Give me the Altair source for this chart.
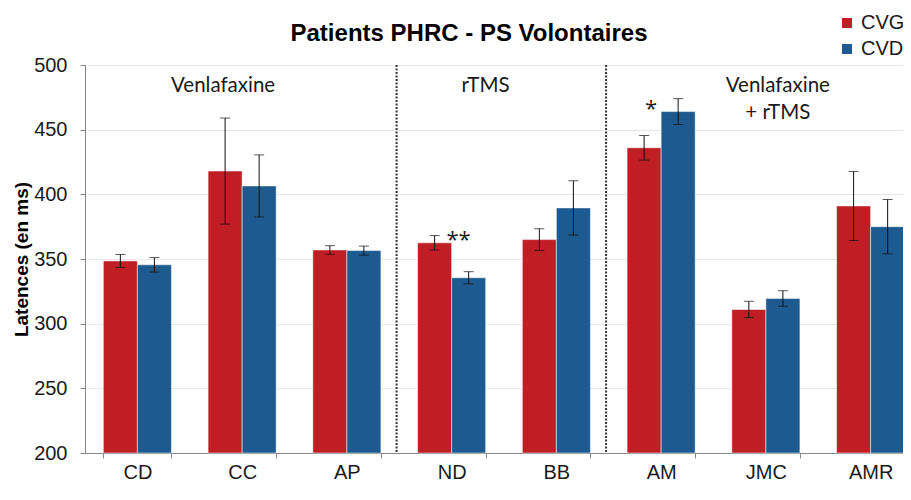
import altair as alt
import pandas as pd

categories = ["CD", "CC", "AP", "ND", "BB", "AM", "JMC", "AMR"]
series = ["CVG", "CVD"]
cvg = [348.5, 418.0, 357.0, 362.5, 365.0, 436.0, 311.0, 391.0]
cvg_err = [5.0, 41.0, 3.3, 5.6, 8.4, 9.5, 6.3, 26.7]
cvd = [345.5, 406.5, 356.5, 335.5, 389.5, 464.0, 319.5, 375.0]
cvd_err = [5.6, 24.0, 3.5, 4.7, 21.0, 10.0, 6.0, 21.0]

group_labels = ["Venlafaxine", "rTMS", "Venlafaxine", "+ rTMS"]
group_label_cats = ["CC", "ND", "JMC", "JMC"]
group_label_vals = [484, 484, 484, 463]
group_label_dx = [15, 68, 46, 46]

sig_labels = ["**", "*"]
sig_cats = ["ND", "AM"]
sig_vals = [365, 466]
sig_dx = [41, 24]

separator_cats = ["ND", "AM"]

colors = ["#BE1E24", "#1D5A8F"]

rows = []
for i, c in enumerate(categories):
    rows.append({"cat": c, "series": "CVG", "value": cvg[i], "base": 200,
                 "lo": cvg[i] - cvg_err[i], "hi": cvg[i] + cvg_err[i]})
    rows.append({"cat": c, "series": "CVD", "value": cvd[i], "base": 200,
                 "lo": cvd[i] - cvd_err[i], "hi": cvd[i] + cvd_err[i]})
df = pd.DataFrame(rows)

ann = pd.DataFrame({"cat": group_label_cats, "text": group_labels,
                    "v": group_label_vals, "dx": group_label_dx})
sig = pd.DataFrame({"cat": sig_cats, "text": sig_labels, "v": sig_vals, "dx": sig_dx})
sep = pd.DataFrame({"cat": separator_cats, "top": [500] * 2, "bottom": [200] * 2})

x_enc = alt.X("cat:N", sort=categories,
              scale=alt.Scale(domain=categories, range=[0, 838],
                              paddingInner=0.35, paddingOuter=0.175),
              axis=alt.Axis(title=None, labelAngle=0, tickBand="extent",
                            domainColor="#868686", tickColor="#868686",
                            tickSize=5, labelPadding=4, labelFontSize=20,
                            labelFont="Liberation Sans", labelColor="#1a1a1a",
                            grid=False))
y_scale = alt.Scale(domain=[200, 500], nice=False, zero=False)
xoff = alt.XOffset("series:N", sort=series, scale=alt.Scale(domain=series, paddingInner=0, paddingOuter=0))

base = alt.Chart(df)

bars = base.mark_bar(stroke="white", strokeWidth=1, strokeOpacity=0.5).encode(
    x=x_enc,
    xOffset=xoff,
    y=alt.Y("value:Q", scale=y_scale,
            axis=alt.Axis(title="Latences (en ms)", values=[200, 250, 300, 350, 400, 450, 500],
                          titleFont="Liberation Sans", titleFontSize=19, titleFontWeight="bold",
                          titleColor="#000000", titlePadding=2,
                          labelFont="Liberation Sans", labelFontSize=20, labelColor="#1a1a1a",
                          labelPadding=13, tickSize=5, tickColor="#868686",
                          domainColor="#868686", gridColor="#D0D0D0", gridDash=[1, 1],
                          gridWidth=1)),
    y2="base:Q",
    color=alt.Color("series:N", sort=series,
                    scale=alt.Scale(domain=series, range=colors),
                    legend=alt.Legend(title=None, orient="none", legendX=752, legendY=-52,
                                      symbolType="square", symbolSize=100, symbolStrokeWidth=0,
                                      labelFont="Liberation Sans", labelFontSize=20,
                                      labelColor="#1a1a1a", rowPadding=6, labelOffset=4,
                                      padding=0)),
)

err_rule = base.mark_rule(color="#111111", strokeWidth=1).encode(
    x=alt.X("cat:N", sort=categories), xOffset=xoff,
    y=alt.Y("lo:Q", scale=y_scale), y2="hi:Q")
err_lo = base.mark_tick(color="#111111", thickness=1, size=10).encode(
    x=alt.X("cat:N", sort=categories), xOffset=xoff, y=alt.Y("lo:Q", scale=y_scale))
err_hi = base.mark_tick(color="#111111", thickness=1, size=10).encode(
    x=alt.X("cat:N", sort=categories), xOffset=xoff, y=alt.Y("hi:Q", scale=y_scale))

seps = alt.Chart(sep).mark_rule(color="#333333", strokeWidth=2, strokeDash=[2, 1.5], xOffset=-21).encode(
    x=alt.X("cat:N", sort=categories, bandPosition=0),
    y=alt.Y("top:Q", scale=y_scale), y2="bottom:Q")

ann_text = alt.Chart(ann).mark_text(font="Lato", fontSize=20.5, color="#1a1a1a", baseline="middle").encode(
    x=alt.X("cat:N", sort=categories), y=alt.Y("v:Q", scale=y_scale),
    text="text:N", xOffset=alt.XOffset("dx:Q", scale=None))

sig_text = alt.Chart(sig).mark_text(font="Open Sans", fontSize=22, color="#1a1a1a", baseline="middle").encode(
    x=alt.X("cat:N", sort=categories), y=alt.Y("v:Q", scale=y_scale),
    text="text:N", xOffset=alt.XOffset("dx:Q", scale=None))

chart = alt.layer(bars, err_rule, err_lo, err_hi, seps, ann_text, sig_text).resolve_scale(
    xOffset="independent"
).properties(
    width=818, height=388,
    autosize=alt.AutoSizeParams(type="none"),
    padding={"left": 77, "top": 57, "right": 0, "bottom": 31},
    title=alt.TitleParams("Patients PHRC - PS Volontaires", font="Liberation Sans", fontSize=24,
                          fontWeight="bold", color="#000000", anchor="middle", dx=-25, offset=-33),
).configure_view(stroke=None).configure_axisX(grid=False)

chart.save("out.html", embed_options={"renderer": "svg", "actions": False})
